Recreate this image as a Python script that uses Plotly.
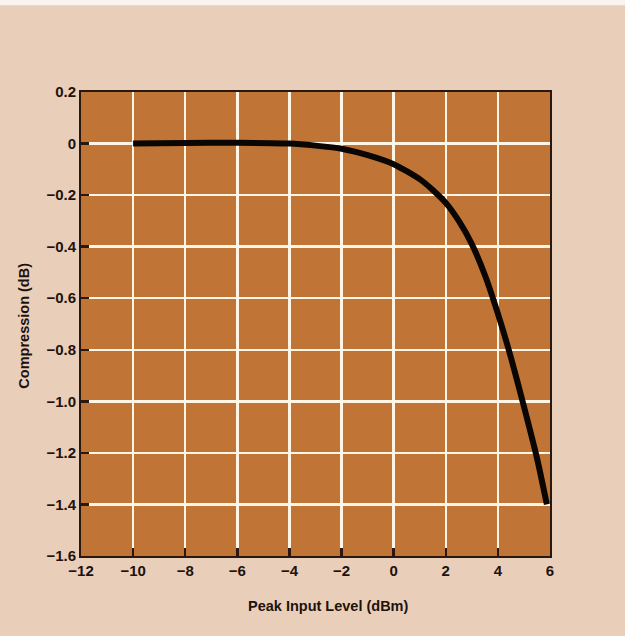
import plotly.graph_objects as go

# Data
input_level_dbm = [-10, -8, -6, -4, -3, -2, -1, 0, 1, 1.5, 2, 2.5, 3, 3.5, 4, 4.5, 5, 5.5, 5.88]
compression_db = [0, 0.002, 0.003, 0, -0.008, -0.02, -0.045, -0.08, -0.138, -0.18, -0.23,
                  -0.30, -0.39, -0.51, -0.66, -0.83, -1.02, -1.22, -1.4]

x_tickvals = [-12, -10, -8, -6, -4, -2, 0, 2, 4, 6]
x_ticktext = ["\u221212", "\u221210", "\u22128", "\u22126", "\u22124", "\u22122", "0", "2", "4", "6"]
y_tickvals = [0.2, 0, -0.2, -0.4, -0.6, -0.8, -1.0, -1.2, -1.4, -1.6]
y_ticktext = ["0.2", "0", "\u22120.2", "\u22120.4", "\u22120.6", "\u22120.8",
              "\u22121.0", "\u22121.2", "\u22121.4", "\u22121.6"]

PAPER = "#E9CFBA"
PLOT = "#C07536"
GRID = "#FFF6E6"
DARK = "#2A1810"
TEXT = "#1E120C"
FONT = "Liberation Sans"

fig = go.Figure()
fig.add_trace(go.Scatter(
    x=input_level_dbm, y=compression_db, mode="lines",
    line=dict(color="#0A0604", width=6, shape="spline", smoothing=0.6),
    hoverinfo="skip", showlegend=False,
))

axis_common = dict(
    showgrid=True, gridcolor=GRID, gridwidth=2.5,
    zeroline=False, showline=True, linecolor=DARK, linewidth=2, mirror=True,
    ticks="inside", ticklen=8, tickwidth=2.5, tickcolor=DARK,
    tickfont=dict(family=FONT, size=15, color=TEXT, weight="bold"),
)

fig.update_xaxes(range=[-12, 6], tickmode="array", tickvals=x_tickvals,
                 ticktext=x_ticktext, **axis_common)
fig.update_yaxes(range=[-1.6, 0.2], tickmode="array", tickvals=y_tickvals,
                 ticktext=y_ticktext, **axis_common)

fig.update_layout(
    width=625, height=636,
    margin=dict(l=81, r=75, t=92, b=80, pad=0),
    paper_bgcolor=PAPER, plot_bgcolor=PLOT,
    showlegend=False,
    annotations=[
        dict(text="Peak Input Level (dBm)", xref="paper", yref="paper",
             x=0.527, y=-0.107, xanchor="center", yanchor="middle", showarrow=False,
             font=dict(family=FONT, size=14.5, color=TEXT, weight="bold")),
        dict(text="Compression (dB)", xref="paper", yref="paper",
             x=-0.121, y=0.497, xanchor="center", yanchor="middle", showarrow=False,
             textangle=-90,
             font=dict(family=FONT, size=14.5, color=TEXT, weight="bold")),
    ],
    shapes=[
        dict(type="rect", xref="paper", yref="paper", x0=-0.2, x1=1.2,
             y0=1.187, y1=1.3, fillcolor="#FBF3EE", line=dict(width=0), layer="below"),
    ],
)

fig.write_html(
    "out.html",
    config={"displayModeBar": False, "staticPlot": True},
    post_script="document.body.style.margin='0';document.body.style.overflow='hidden';",
)
